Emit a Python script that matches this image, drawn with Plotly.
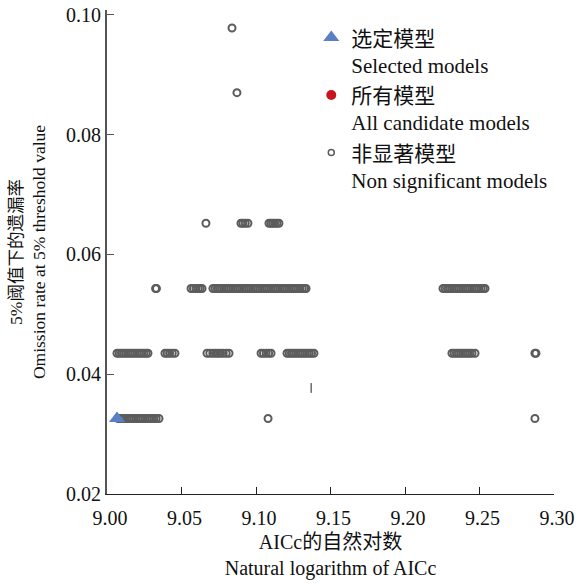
import plotly.graph_objects as go

# ---------------- data ----------------
x_ticks = [9.00, 9.05, 9.10, 9.15, 9.20, 9.25, 9.30]
y_ticks = [0.02, 0.04, 0.06, 0.08, 0.10]

# selected model
selected_x = [9.0067]
selected_y = [0.0326]

# all candidate models (none visible in the picture)
all_x = [None]
all_y = [None]

# non significant models, one list per omission-rate level
rate_a = 0.0326
x_rate_a = [9.0075, 9.0090, 9.0105, 9.0120, 9.0135, 9.0150, 9.0165, 9.0180, 9.0195,
            9.0210, 9.0225, 9.0240, 9.0255, 9.0270, 9.0285, 9.0300, 9.0315, 9.0330,
            9.0349, 9.1081, 9.2872]

rate_b = 0.0435
x_rate_b = [9.0067, 9.0082, 9.0097, 9.0112, 9.0127, 9.0142, 9.0157, 9.0172, 9.0187,
            9.0202, 9.0217, 9.0232, 9.0247, 9.0262, 9.0275,
            9.0389, 9.0404, 9.0420, 9.0438, 9.0456,
            9.0671, 9.0690, 9.0710, 9.0728, 9.0745, 9.0762, 9.0780, 9.0800, 9.0819,
            9.1034, 9.1050, 9.1068, 9.1085, 9.1101,
            9.1208, 9.1223, 9.1238, 9.1253, 9.1268, 9.1283, 9.1298, 9.1313, 9.1328,
            9.1343, 9.1358, 9.1373, 9.1389,
            9.2315, 9.2330, 9.2345, 9.2360, 9.2375, 9.2390, 9.2405, 9.2420, 9.2435,
            9.2450, 9.2470,
            9.2872, 9.2879]

rate_c = 0.0543
x_rate_c = [9.0326, 9.0332,
            9.0564, 9.0580, 9.0597, 9.0612, 9.0625, 9.0638,
            9.0711, 9.0726, 9.0741, 9.0756, 9.0771, 9.0786, 9.0801, 9.0816, 9.0831,
            9.0846, 9.0861, 9.0876, 9.0891, 9.0906, 9.0921, 9.0936, 9.0951, 9.0966,
            9.0981, 9.0996, 9.1011, 9.1026, 9.1041, 9.1056, 9.1071, 9.1086, 9.1101,
            9.1116, 9.1131, 9.1146, 9.1161, 9.1176, 9.1191, 9.1206, 9.1221, 9.1236,
            9.1251, 9.1266, 9.1281, 9.1296, 9.1311, 9.1326, 9.1336,
            9.2255, 9.2270, 9.2285, 9.2300, 9.2315, 9.2330, 9.2345, 9.2360, 9.2375,
            9.2390, 9.2405, 9.2420, 9.2435, 9.2450, 9.2465, 9.2480, 9.2495, 9.2510,
            9.2525, 9.2537]

rate_d = 0.0652
x_rate_d = [9.0664,
            9.0899, 9.0912, 9.0928, 9.0946,
            9.1087, 9.1100, 9.1112, 9.1125, 9.1140, 9.1154]

rate_e = 0.0870
x_rate_e = [9.0872]

rate_f = 0.0978
x_rate_f = [9.0839]

# small stray mark seen in the picture
mark_x = [9.137]
mark_y = [0.0377]

# ---------------- figure ----------------
ns_x, ns_y = [], []
for xs, r in [(x_rate_a, rate_a), (x_rate_b, rate_b), (x_rate_c, rate_c),
              (x_rate_d, rate_d), (x_rate_e, rate_e), (x_rate_f, rate_f)]:
    ns_x += xs
    ns_y += [r] * len(xs)

FONT = "Liberation Serif, Times New Roman, Noto Sans CJK SC, serif"
GREY = "#5c5c5c"

fig = go.Figure()

fig.add_trace(go.Scatter(
    x=ns_x, y=ns_y, mode="markers", showlegend=False,
    marker=dict(symbol="circle-open", size=7, color=GREY, line=dict(width=2, color=GREY)),
))
fig.add_trace(go.Scatter(
    x=mark_x, y=mark_y, mode="markers", showlegend=False,
    marker=dict(symbol="line-ns", size=7, line=dict(width=1, color="#222222")),
))
fig.add_trace(go.Scatter(
    x=selected_x, y=selected_y, mode="markers", name="选定模型<br>Selected models",
    marker=dict(symbol="triangle-up", size=14, color="#5b7fc6"),
))
fig.add_trace(go.Scatter(
    x=all_x, y=all_y, mode="markers", name="所有模型<br>All candidate models",
    marker=dict(symbol="circle", size=10, color="#c8141e"),
))
fig.add_trace(go.Scatter(
    x=[None], y=[None], mode="markers", name="非显著模型<br>Non significant models",
    marker=dict(symbol="circle-open", size=6, color=GREY, line=dict(width=1.5, color=GREY)),
))

fig.update_layout(
    width=579, height=584,
    margin=dict(l=107, r=25, t=10, b=90, autoexpand=False),
    paper_bgcolor="white", plot_bgcolor="white",
    font=dict(family=FONT, size=20, color="#111111"),
    legend=dict(x=0.457, xanchor="left", y=0.985, yanchor="top",
                bgcolor="rgba(0,0,0,0)", valign="top",
                font=dict(family=FONT, size=21), tracegroupgap=0),
    xaxis=dict(
        range=[9.0, 9.3], tickvals=x_ticks, tickformat=".2f",
        ticks="inside", ticklen=7, tickwidth=1, tickcolor="#222222",
        tickfont=dict(size=20), ticklabeloverflow="allow",
        ticklabelstandoff=6, ticklabelshift=3, automargin=False,
        showline=True, linecolor="#222222", linewidth=1,
        showgrid=False, zeroline=False,
        title=dict(text="AICc的自然对数<br>Natural logarithm of AICc", standoff=6,
                   font=dict(size=20)),
    ),
    yaxis=dict(
        range=[0.02, 0.1008], tickvals=y_ticks, tickformat=".2f",
        ticks="inside", ticklen=7, tickwidth=1, tickcolor="#555555",
        tickfont=dict(size=20), ticklabeloverflow="allow", automargin=False,
        showline=True, linecolor="#555555", linewidth=2,
        showgrid=False, zeroline=False,
        title=dict(text="5%阈值下的遗漏率<br>Omission rate at 5% threshold value", standoff=16,
                   font=dict(size=17.5)),
    ),
)

# remove the default page margin so the figure fills the window exactly
fig.write_html(
    "out.html",
    config={"displayModeBar": False},
    post_script="document.body.style.margin='0';document.body.style.overflow='hidden';",
)
